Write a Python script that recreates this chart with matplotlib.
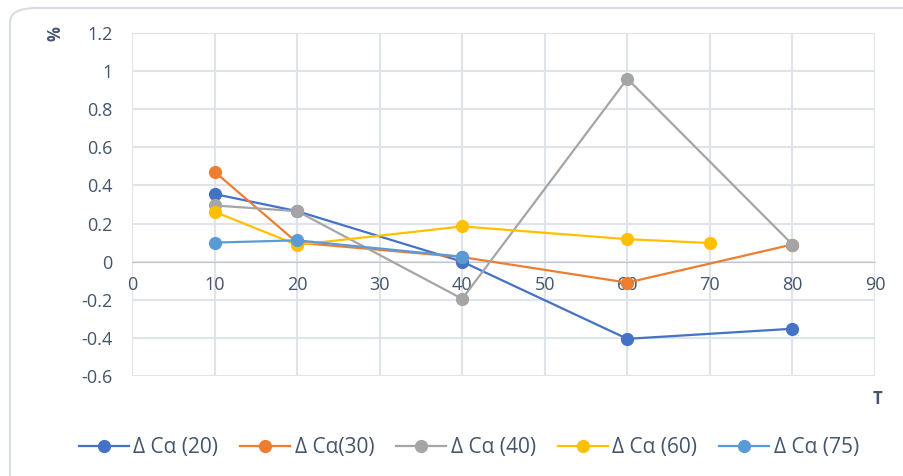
import matplotlib.pyplot as plt
from matplotlib.patches import FancyBboxPatch

# series values (T on x, % on y)
t_20 = [10, 20, 40, 60, 80]
ca_20 = [0.355, 0.265, 0.0, -0.405, -0.352]
t_30 = [10, 20, 40, 60, 80]
ca_30 = [0.472, 0.10, 0.024, -0.11, 0.09]
t_40 = [10, 20, 40, 60, 80]
ca_40 = [0.295, 0.265, -0.195, 0.96, 0.09]
t_60 = [10, 20, 40, 60, 70]
ca_60 = [0.262, 0.088, 0.185, 0.118, 0.098]
t_75 = [10, 20, 40]
ca_75 = [0.10, 0.112, 0.026]

labels = ['Δ Cα (20)', 'Δ Cα(30)', 'Δ Cα (40)', 'Δ Cα (60)', 'Δ Cα (75)']
colors = ['#4472C4', '#ED7D31', '#A5A5A5', '#FFC000', '#5B9BD5']

plt.rcParams['font.family'] = ['Open Sans', 'DejaVu Sans']
text_col = '#44546a'

fig = plt.figure(figsize=(9.04, 4.76), dpi=100)
W, H = 904, 476
ax = fig.add_axes([132 / W, 1 - 376 / H, (875 - 132) / W, (376 - 33) / H])

# rounded outer frame, running off the right and bottom edges
frame = FancyBboxPatch((10 / W, -0.3), 1.2, 1.3 - 8 / H, transform=fig.transFigure,
                       boxstyle='round,pad=0,rounding_size=0.03',
                       fc='none', ec='#d9dde3', lw=1.5, zorder=0)
fig.patches.append(frame)

series = [(t_20, ca_20), (t_30, ca_30), (t_40, ca_40), (t_60, ca_60), (t_75, ca_75)]
for (x, y), lab, c in zip(series, labels, colors):
    ax.plot(x, y, '-o', color=c, lw=1.6, ms=8.5, label=lab, zorder=3)

ax.set_xlim(0, 90)
ax.set_ylim(-0.6, 1.2)
ax.set_xticks(range(0, 91, 10))
ax.set_yticks([-0.6, -0.4, -0.2, 0, 0.2, 0.4, 0.6, 0.8, 1, 1.2])
ax.set_yticklabels(['-0.6', '-0.4', '-0.2', '0', '0.2', '0.4', '0.6', '0.8', '1', '1.2'])
ax.grid(True, color='#dfe3ea', lw=1.5, zorder=0)
ax.set_axisbelow(True)
for s in ['top', 'left', 'right']:
    ax.spines[s].set_visible(False)
ax.spines['bottom'].set_position(('data', 0))
ax.spines['bottom'].set_color('#c0c6d0')
ax.tick_params(length=0, labelsize=13, colors=text_col, pad=10)
ax.tick_params(axis='y', pad=14)

fig.text(56 / W, 1 - 34 / H, '%', rotation=90, ha='center', va='center',
         fontsize=12, fontweight='bold', color=text_col)
fig.text(878 / W, 1 - 399 / H, 'T', ha='center', va='center',
         fontsize=12, fontweight='bold', color=text_col)

fig.legend(loc='center', bbox_to_anchor=(469 / W, 1 - 448 / H), ncol=5,
           frameon=False, fontsize=15, labelcolor=text_col,
           handlelength=2.4, columnspacing=1.05, handletextpad=0.22)

fig.savefig('out.png', dpi=100)
